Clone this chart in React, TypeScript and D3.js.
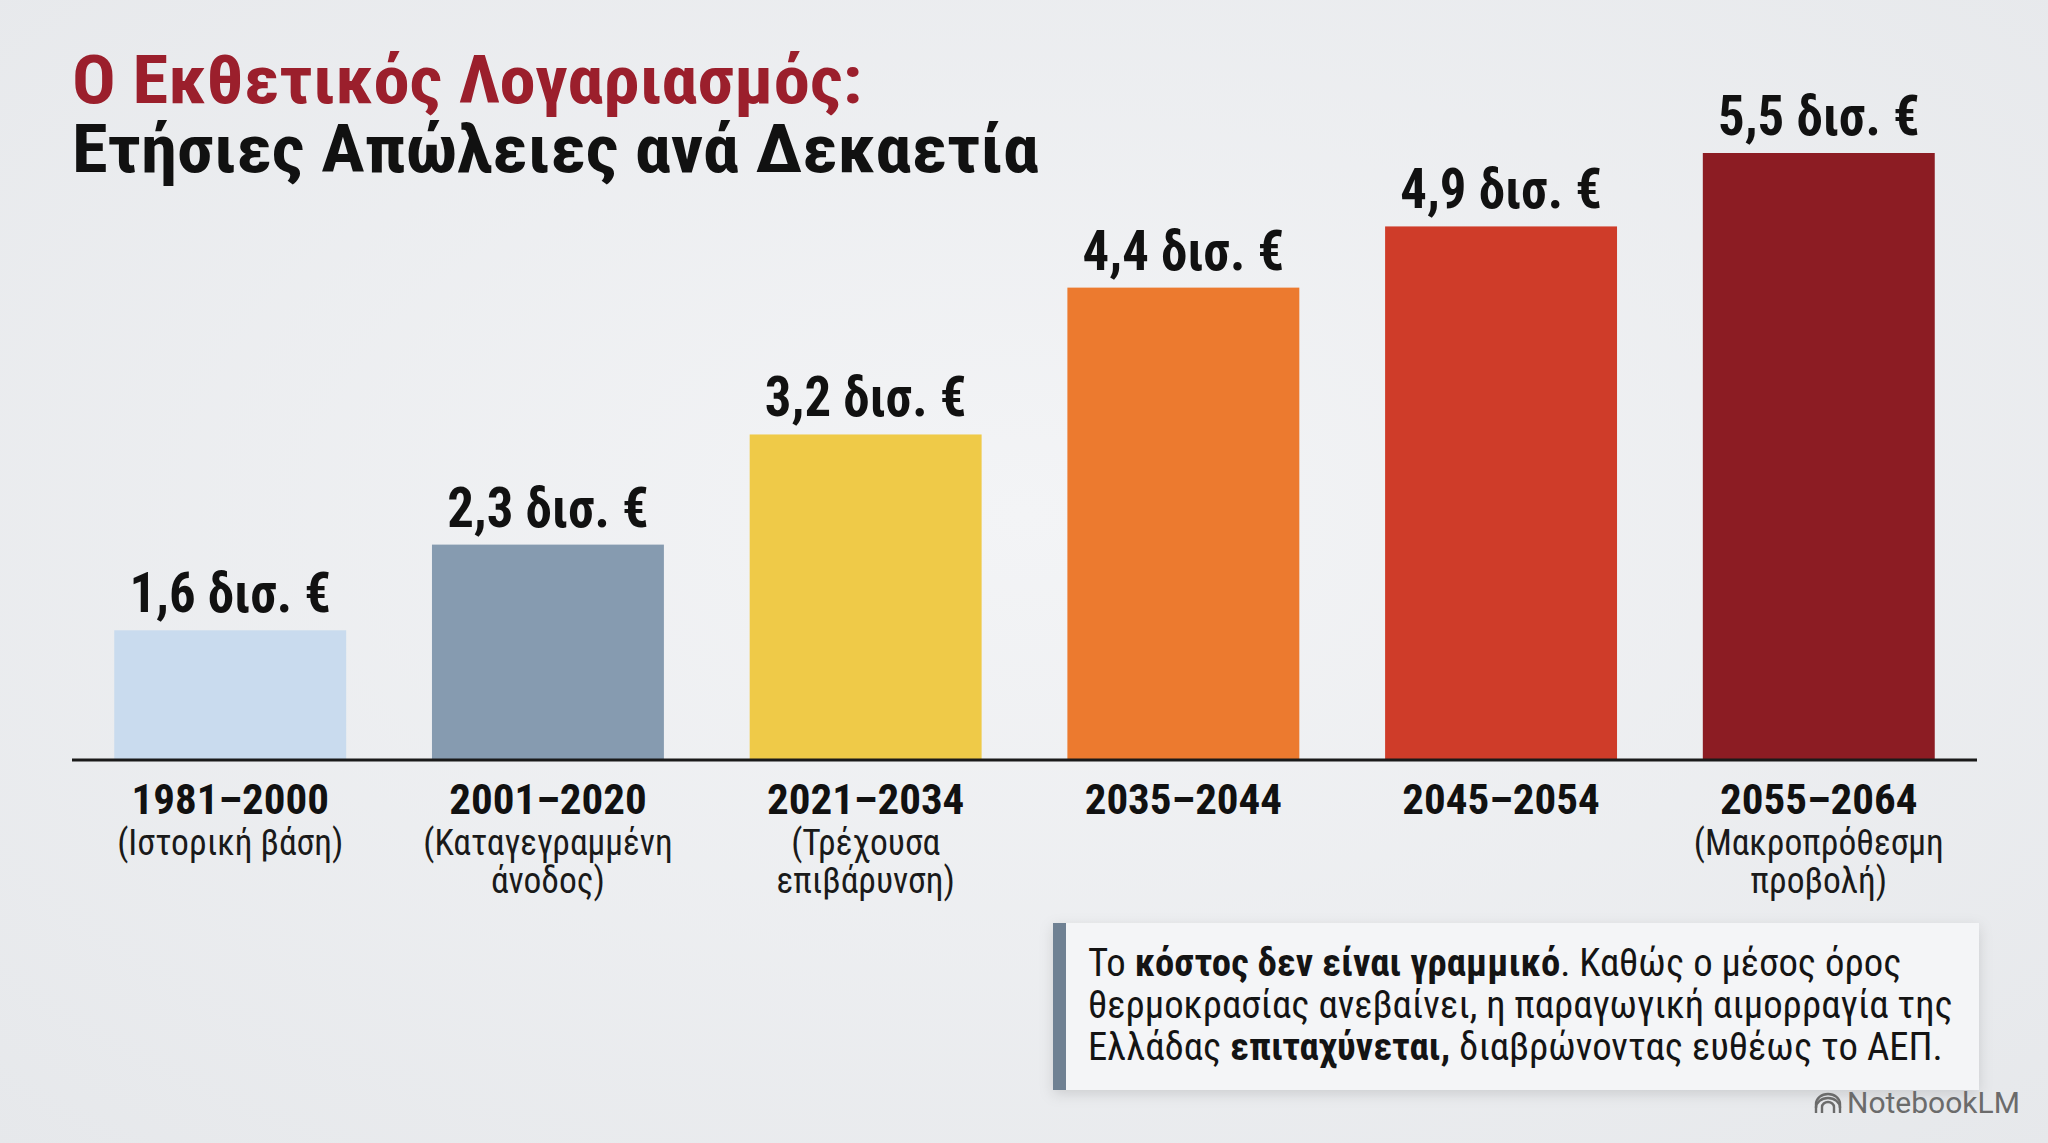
import React from 'react';
import * as d3 from 'd3';

// ─── data ─────────────────────────────────────────────────────────────
const periods = ['1981–2000', '2001–2020', '2021–2034', '2035–2044', '2045–2054', '2055–2064'];
const periodNotes: string[][] = [
    ['(Ιστορική βάση)'],
    ['(Καταγεγραμμένη', 'άνοδος)'],
    ['(Τρέχουσα', 'επιβάρυνση)'],
    [],
    [],
    ['(Μακροπρόθεσμη', 'προβολή)'],
];
const losses = [1.6, 2.3, 3.2, 4.4, 4.9, 5.5];
const unitLabel = 'δισ. €';

const titleLines = ['Ο Εκθετικός Λογαριασμός:', 'Ετήσιες Απώλειες ανά Δεκαετία'];

// callout: [text, bold?] per line
const calloutLines: [string, boolean][][] = [
    [['Το ', false], ['κόστος δεν είναι γραμμικό', true], ['. Καθώς ο μέσος όρος', false]],
    [['θερμοκρασίας ανεβαίνει, η παραγωγική αιμορραγία της', false]],
    [['Ελλάδας ', false], ['επιταχύνεται,', true], [' διαβρώνοντας ευθέως το ΑΕΠ.', false]],
];

const barColors = ['#c9dbee', '#869bb0', '#efca48', '#ec7a2f', '#cf3c29', '#8c1c23'];

// ─── layout ───────────────────────────────────────────────────────────
const W = 2048;
const H = 1143;
const baseY = 760;
const axisX0 = 72;
const axisX1 = 1977;

const NARROW = "'Liberation Sans Narrow', 'Roboto Condensed', 'DejaVu Sans Condensed', Roboto, sans-serif";

const locale = d3.formatLocale({ decimal: ',', thousands: '.', grouping: [3], currency: ['', '€'] });
const fmt = locale.format('.1f');

// text squeezed / stretched horizontally around its anchor
const SText: React.FC<any> = ({ x, y, sx = 1, children, ...rest }) => (
    <text transform={`translate(${x},${y}) scale(${sx},1)`} {...rest}>
        {children}
    </text>
);

const App: React.FC = () => {
    const x = d3
        .scaleBand<string>()
        .domain(periods)
        .range([axisX0, axisX1])
        .paddingInner(0.27)
        .paddingOuter(0.133);

    const y = d3.scaleLinear().domain([0.54, 5.5]).range([baseY, 153]);

    return (
        <svg
            width={W}
            height={H}
            viewBox={`0 0 ${W} ${H}`}
            style={{ position: 'absolute', left: 0, top: 0 }}
        >
            <defs>
                <radialGradient id="bg" cx="50%" cy="45%" r="75%">
                    <stop offset="0%" stopColor="#f3f4f6" />
                    <stop offset="100%" stopColor="#e6e8eb" />
                </radialGradient>
                <filter id="shadow" x="-10%" y="-30%" width="120%" height="160%">
                    <feDropShadow dx="0" dy="4" stdDeviation="7" floodColor="#000" floodOpacity="0.13" />
                </filter>
            </defs>

            <rect width={W} height={H} fill="url(#bg)" />

            {/* title, two lines in one text block */}
            <SText x={72} y={103} sx={1.1} fontFamily={NARROW} fontWeight={700} fontSize={66}>
                <tspan x={0} dy={0} fill="#9b1f2c">{titleLines[0]}</tspan>
                <tspan x={0} dy={69} fill="#111">{titleLines[1]}</tspan>
            </SText>

            {/* bars */}
            {losses.map((v, i) => (
                <rect
                    key={periods[i]}
                    x={x(periods[i])}
                    y={y(v)}
                    width={x.bandwidth()}
                    height={baseY - y(v)}
                    fill={barColors[i]}
                />
            ))}

            {/* value labels */}
            {losses.map((v, i) => (
                <SText
                    key={'v' + i}
                    x={(x(periods[i]) ?? 0) + x.bandwidth() / 2}
                    y={y(v) - 18}
                    sx={0.96}
                    textAnchor="middle"
                    fontFamily={NARROW}
                    fontWeight={700}
                    fontSize={55}
                    fill="#111"
                >
                    {`${fmt(v)} ${unitLabel}`}
                </SText>
            ))}

            {/* axis line */}
            <line x1={axisX0} x2={axisX1} y1={baseY} y2={baseY} stroke="#1a1a1a" strokeWidth={3} />

            {/* category labels */}
            {periods.map((p, i) => {
                const cx = (x(p) ?? 0) + x.bandwidth() / 2;
                return (
                    <g key={'c' + i}>
                        <SText x={cx} y={814} textAnchor="middle" fontFamily={NARROW} fontWeight={700} fontSize={43} fill="#111">
                            {p}
                        </SText>
                        {periodNotes[i].length > 0 && (
                            <SText
                                x={cx}
                                y={855}
                                sx={0.96}
                                textAnchor="middle"
                                fontFamily={NARROW}
                                fontSize={37}
                                fill="#1a1a1a"
                            >
                                {periodNotes[i].map((n, j) => (
                                    <tspan key={j} x={0} dy={j === 0 ? 0 : 38}>
                                        {n}
                                    </tspan>
                                ))}
                            </SText>
                        )}
                    </g>
                );
            })}

            {/* callout */}
            <g filter="url(#shadow)">
                <rect x={1053} y={923} width={926} height={167} fill="#f4f5f7" />
            </g>
            <rect x={1053} y={923} width={13} height={167} fill="#6f8193" />
            {calloutLines.map((line, i) => (
                <SText key={'l' + i} x={1088} y={976 + i * 42} sx={1.02} fontFamily={NARROW} fontSize={38} fill="#141414">
                    {line.map(([t, b], k) => (
                        <tspan key={k} fontWeight={b ? 700 : 400}>
                            {t}
                        </tspan>
                    ))}
                </SText>
            ))}

            {/* watermark */}
            <g transform="translate(1814,1092)" fill="none" stroke="#6b6b6b" strokeWidth={2.4}>
                <path d="M2,21 L2,12 A12,10 0 0 1 26,12 L26,21" />
                <path d="M8,21 L8,15 A6,5 0 0 1 20,15 L20,21" />
                <path d="M2,16 A12,10 0 0 1 26,16" />
            </g>
            <text x={1847} y={1113} fontFamily="Roboto, 'Liberation Sans', sans-serif" fontSize={30} fill="#6b6b6b">
                NotebookLM
            </text>
        </svg>
    );
};

export default App;
